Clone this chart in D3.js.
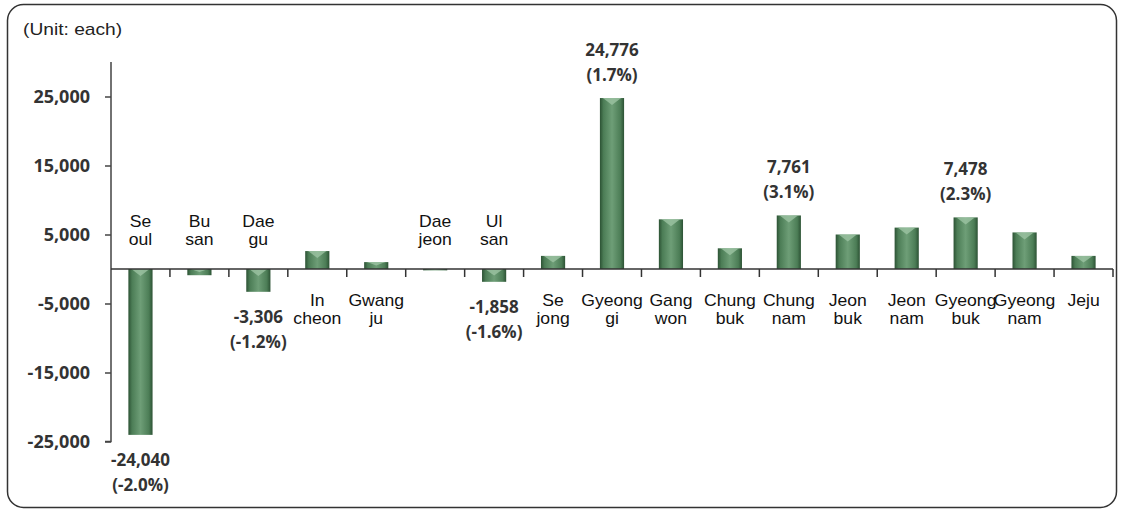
<!DOCTYPE html>
<html>
<head>
<meta charset="utf-8">
<script src="https://cdn.jsdelivr.net/npm/d3@7"></script>
<style>
html,body{margin:0;padding:0;background:#fff;}
svg{display:block;}
</style>
</head>
<body>
<svg id="chart" width="1125" height="511"></svg>
<script>
const regions = ["Seoul","Busan","Daegu","Incheon","Gwangju","Daejeon","Ulsan","Sejong","Gyeonggi","Gangwon","Chungbuk","Chungnam","Jeonbuk","Jeonnam","Gyeongbuk","Gyeongnam","Jeju"];
const labelLines = [["Se","oul"],["Bu","san"],["Dae","gu"],["In","cheon"],["Gwang","ju"],["Dae","jeon"],["Ul","san"],["Se","jong"],["Gyeong","gi"],["Gang","won"],["Chung","buk"],["Chung","nam"],["Jeon","buk"],["Jeon","nam"],["Gyeong","buk"],["Gyeong","nam"],["Jeju"]];
const values = [-24040,-900,-3306,2600,1000,-200,-1858,1900,24776,7200,3000,7761,5000,6000,7478,5300,1900];
const annotations = [
  {region:"Seoul", value:"-24,040", pct:"(-2.0%)"},
  {region:"Daegu", value:"-3,306", pct:"(-1.2%)"},
  {region:"Ulsan", value:"-1,858", pct:"(-1.6%)"},
  {region:"Gyeonggi", value:"24,776", pct:"(1.7%)"},
  {region:"Chungnam", value:"7,761", pct:"(3.1%)"},
  {region:"Gyeongbuk", value:"7,478", pct:"(2.3%)"}
];
const yTicks = [-25000,-15000,-5000,5000,15000,25000];
const yDomain = [-25000, 30000];
const unitLabel = "(Unit: each)";

const svg = d3.select("#chart");
const SX = 1.2;   // horizontal stretch of the unit label
const CSX = 1.1;  // horizontal stretch of category labels

// frame
svg.append("rect").attr("x",7.5).attr("y",4.5).attr("width",1109).attr("height",503)
  .attr("rx",16).attr("ry",16).attr("fill","#fff").attr("stroke","#333").attr("stroke-width",1.5);

svg.append("text").attr("transform",`translate(23,35) scale(${SX},1)`).text(unitLabel)
  .attr("font-family","Liberation Sans, Arial, sans-serif").attr("font-size",16).attr("fill","#222");

const left = 111, right = 1113;
const y = d3.scaleLinear().domain(yDomain).range([441.5, 62]);
const x = d3.scaleBand().domain(regions).range([left, right]).paddingInner(0.59).paddingOuter(0.295);

// gradient
const defs = svg.append("defs");
const g = defs.append("linearGradient").attr("id","barGrad").attr("x1","0").attr("x2","1").attr("y1","0").attr("y2","0");
g.append("stop").attr("offset","0%").attr("stop-color","#2c5234");
g.append("stop").attr("offset","15%").attr("stop-color","#4c7d56");
g.append("stop").attr("offset","50%").attr("stop-color","#6e9e77");
g.append("stop").attr("offset","85%").attr("stop-color","#4c7d56");
g.append("stop").attr("offset","100%").attr("stop-color","#2c5234");

const data = regions.map((r,i)=>({region:r, value:values[i], lines:labelLines[i]}));

// bars
const bars = svg.append("g").selectAll("g").data(data).join("g");
bars.append("rect")
  .attr("x", d=>x(d.region))
  .attr("width", x.bandwidth())
  .attr("y", d=>y(Math.max(0,d.value)))
  .attr("height", d=>Math.abs(y(d.value)-y(0)))
  .attr("fill","url(#barGrad)");
bars.append("path")
  .attr("d", d=>{
    const top = y(Math.max(0,d.value));
    const h = Math.abs(y(d.value)-y(0));
    const bx = x(d.region), bw = x.bandwidth();
    const th = Math.min(7, h*0.5);
    return `M${bx+3},${top} L${bx+bw-3},${top} L${bx+bw/2},${top+th} Z`;
  })
  .attr("fill","#9cc3a2").attr("opacity",0.8);

// y axis
const fmt = d => d3.format(",")(d).replace("\u2212","-");
const yAxis = svg.append("g").attr("transform",`translate(${left},0)`)
  .call(d3.axisLeft(y).tickValues(yTicks).tickSize(6).tickFormat(fmt));
yAxis.select(".domain").attr("stroke","#444").attr("stroke-width",1.5).attr("d",`M-6,${y(-25000)}H0V${y(30000)}`);
yAxis.selectAll(".tick line").attr("stroke","#444").attr("stroke-width",1.5);
yAxis.selectAll(".tick text").attr("x",-21).attr("dy","0.36em")
  .attr("font-family","Open Sans, Lato, sans-serif").attr("font-weight","bold").attr("font-size",18).attr("fill","#333");

// x axis at zero
const xAxisG = svg.append("g").attr("transform",`translate(0,${y(0)})`);
xAxisG.append("line").attr("x1",left).attr("x2",right).attr("stroke","#333").attr("stroke-width",1.5);
const step = x.step();
const boundaries = d3.range(regions.length).map(i=>x(regions[i]) - x.paddingInner()*step/2 + step);
xAxisG.selectAll("line.tk").data(boundaries).join("line").attr("class","tk")
  .attr("x1",d=>d).attr("x2",d=>d).attr("y1",0).attr("y2",8).attr("stroke","#333").attr("stroke-width",1.5);

// category labels
const cat = svg.append("g").selectAll("text").data(data).join("text")
  .attr("text-anchor","middle")
  .attr("font-family","Liberation Sans, Arial, sans-serif").attr("font-size",16).attr("fill","#111")
  .attr("transform", d=>`translate(${x(d.region)+x.bandwidth()/2},${d.value<0 ? 227 : 306}) scale(${CSX},1)`);
cat.selectAll("tspan").data(d=>d.lines).join("tspan")
  .attr("x",0).attr("dy",(d,i)=>i===0?0:18).text(d=>d);

// value annotations
const ann = svg.append("g").selectAll("text").data(annotations).join("text")
  .attr("text-anchor","middle")
  .attr("font-family","Open Sans, Lato, sans-serif").attr("font-weight","bold").attr("font-size",17).attr("fill","#333")
  .attr("transform", d=>{
    const v = values[regions.indexOf(d.region)];
    const cx = x(d.region)+x.bandwidth()/2;
    const yy = v<0 ? y(v)+31 : y(v)-42;
    return `translate(${cx},${yy})`;
  });
ann.append("tspan").attr("x",0).attr("dy",0).text(d=>d.value);
ann.append("tspan").attr("x",0).attr("dy",25).text(d=>d.pct);
</script>
</body>
</html>
